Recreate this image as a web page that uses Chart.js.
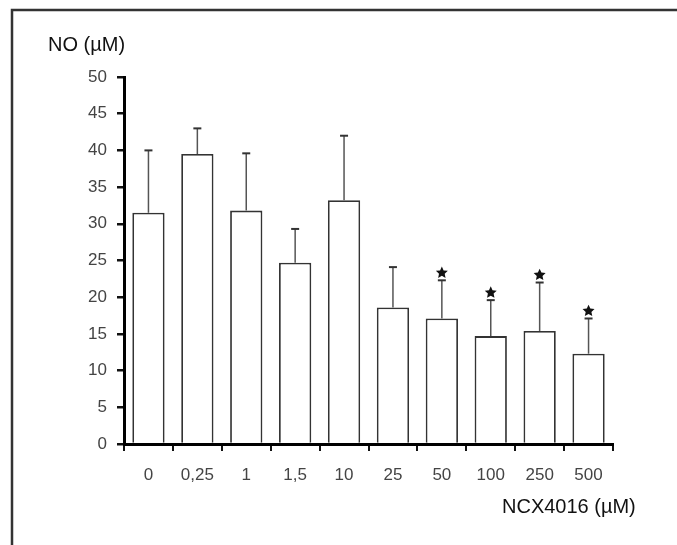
<!DOCTYPE html>
<html>
<head>
<meta charset="utf-8">
<script src="https://cdn.jsdelivr.net/npm/chart.js@4"></script>
<style>
  html, body { margin: 0; padding: 0; background: #fff; }
  #wrap { position: relative; width: 677px; height: 545px; }
</style>
</head>
<body>
<div id="wrap"><canvas id="noChart"></canvas></div>
<script>
// Data
const doses = ["0", "0,25", "1", "1,5", "10", "25", "50", "100", "250", "500"];
const meanNO = [31.5, 39.5, 31.8, 24.7, 33.2, 18.6, 17.1, 14.7, 15.4, 12.3];
const upperSD = [40.0, 43.0, 39.6, 29.3, 42.0, 24.1, 22.3, 19.6, 22.0, 17.1];
const significant = [false, false, false, false, false, false, true, true, true, true];
const yTicks = [0, 5, 10, 15, 20, 25, 30, 35, 40, 45, 50];

const yTitle = "NO (\u00b5M)";
const xTitle = "NCX4016 (\u00b5M)";

// error bars, stars, frame and titles
const extras = {
  id: 'extras',
  afterDatasetsDraw(chart) {
    const ctx = chart.ctx;
    const y = chart.scales.y;
    const meta = chart.getDatasetMeta(0);
    ctx.save();
    meta.data.forEach((bar, i) => {
      const x = bar.x;
      const yTop = y.getPixelForValue(upperSD[i]);
      const yMean = y.getPixelForValue(meanNO[i]);
      ctx.strokeStyle = '#555';
      ctx.lineWidth = 1.5;
      ctx.beginPath();
      ctx.moveTo(x, yMean);
      ctx.lineTo(x, yTop);
      ctx.stroke();
      ctx.lineWidth = 2;
      ctx.strokeStyle = '#333';
      ctx.beginPath();
      ctx.moveTo(x - 4, yTop);
      ctx.lineTo(x + 4, yTop);
      ctx.stroke();
      if (significant[i]) {
        const cy = yTop - 7.5;
        ctx.fillStyle = '#111';
        ctx.beginPath();
        for (let k = 0; k < 10; k++) {
          const r = k % 2 === 0 ? 6.3 : 3.0;
          const a = -Math.PI / 2 + k * Math.PI / 5;
          const px = x + r * Math.cos(a);
          const py = cy + r * Math.sin(a);
          if (k === 0) ctx.moveTo(px, py); else ctx.lineTo(px, py);
        }
        ctx.closePath();
        ctx.fill();
      }
    });
    ctx.restore();
  },
  afterDraw(chart) {
    const ctx = chart.ctx;
    ctx.save();
    // frame (top and left edges only, like the cropped figure)
    ctx.strokeStyle = '#333';
    ctx.lineWidth = 2.5;
    ctx.beginPath();
    ctx.moveTo(12, 545);
    ctx.lineTo(12, 10);
    ctx.lineTo(677, 10);
    ctx.stroke();
    ctx.fillStyle = '#111';
    ctx.font = '20px "Liberation Sans", Arial, sans-serif';
    ctx.textBaseline = 'middle';
    ctx.textAlign = 'left';
    ctx.fillText(yTitle, 48, 45);
    ctx.fillText(xTitle, 502, 507);
    ctx.restore();
  }
};

new Chart(document.getElementById('noChart'), {
  type: 'bar',
  data: {
    labels: doses,
    datasets: [{
      data: meanNO,
      backgroundColor: '#fff',
      borderColor: '#333',
      borderWidth: 1.8,
      barPercentage: 0.66,
      categoryPercentage: 1.0
    }]
  },
  options: {
    responsive: true,
    maintainAspectRatio: false,
    animation: false,
    layout: { padding: { top: 77, right: 64, left: 0, bottom: 0 } },
    plugins: {
      legend: { display: false },
      tooltip: { enabled: false }
    },
    scales: {
      x: {
        offset: true,
        afterFit(scale) { scale.height = 101; },
        border: { display: true, color: '#000', width: 3 },
        grid: { offset: true, drawOnChartArea: false, drawTicks: true, tickLength: 7, color: '#111', lineWidth: 2 },
        ticks: { color: '#444', padding: 14, font: { family: '"Liberation Sans", Arial, sans-serif', size: 17 } }
      },
      y: {
        min: 0,
        max: 50,
        afterFit(scale) { scale.width = 124; },
        afterBuildTicks(scale) { scale.ticks = yTicks.map(v => ({ value: v })); },
        border: { display: true, color: '#000', width: 3 },
        grid: { drawOnChartArea: false, drawTicks: true, tickLength: 7, color: '#111', lineWidth: 2.5 },
        ticks: { color: '#444', padding: 10, font: { family: '"Liberation Sans", Arial, sans-serif', size: 17 } }
      }
    }
  },
  plugins: [extras]
});
</script>
</body>
</html>
